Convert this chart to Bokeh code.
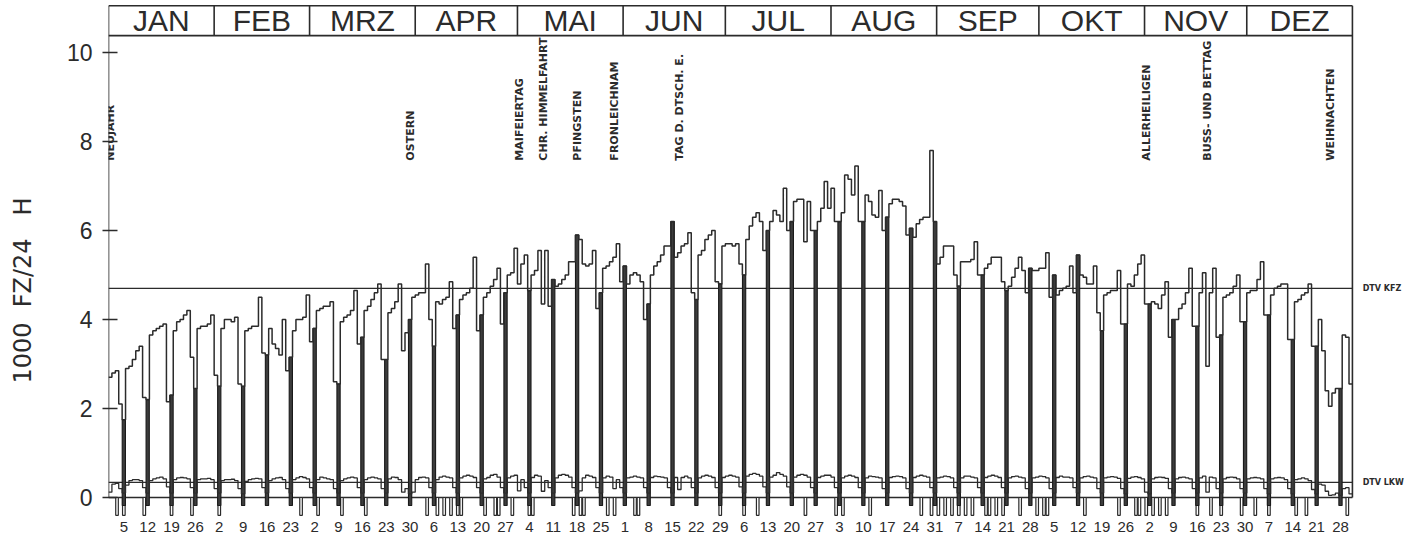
import math
from bokeh.plotting import figure
from bokeh.models import Range1d, FixedTicker
from bokeh.core.properties import value
from bokeh.embed import file_html
from bokeh.resources import INLINE

# ---------------- data ----------------
months = ["JAN", "FEB", "MRZ", "APR", "MAI", "JUN", "JUL", "AUG", "SEP", "OKT", "NOV", "DEZ"]
month_days = [31, 28, 31, 30, 31, 30, 31, 31, 30, 31, 30, 31]

# daily traffic, all vehicles (1000 FZ/24 H), 1986
kfz_jan = [2.7, 2.8, 2.85, 2.1, 1.75, 2.9, 2.95, 3.1, 3.3, 3.4, 2.25, 2.2, 3.65, 3.75, 3.8, 3.85,
           3.9, 2.15, 2.3, 3.75, 3.95, 4.0, 4.1, 4.2, 3.15, 2.45, 3.8, 3.85, 3.85, 3.9, 4.1]
kfz_feb = [2.75, 2.5, 3.8, 4.0, 4.0, 3.95, 4.05, 2.55, 2.5, 3.75, 3.8, 3.85, 3.85, 4.5, 3.25, 3.2,
           3.8, 3.45, 3.35, 3.2, 4.0, 2.85, 3.15, 3.75, 4.0, 4.0, 4.05, 4.55]
kfz_mar = [3.5, 3.8, 4.2, 4.25, 4.3, 4.3, 4.4, 2.6, 2.55, 3.95, 4.05, 4.1, 4.2, 4.65, 3.45, 3.6,
           4.2, 4.3, 4.45, 4.6, 4.8, 3.1, 3.1, 4.15, 4.25, 4.4, 4.8, 3.3, 3.7, 4.0, 4.5]
kfz_apr = [4.55, 4.6, 4.6, 5.25, 4.0, 3.4, 4.4, 4.35, 4.45, 4.5, 4.85, 3.8, 4.1, 4.45, 4.55, 4.6,
           4.7, 5.4, 3.75, 4.1, 4.5, 4.6, 4.75, 4.9, 5.15, 3.9, 4.6, 5.0, 5.05, 5.6]
kfz_mai = [4.8, 5.25, 5.45, 4.65, 5.0, 5.1, 5.55, 4.35, 5.55, 4.3, 4.9, 4.75, 4.8, 4.9, 5.0, 5.3,
           5.3, 5.9, 5.8, 5.25, 5.2, 5.25, 5.55, 4.25, 4.6, 5.15, 5.2, 5.3, 5.4, 5.7, 4.85]
kfz_jun = [5.2, 4.8, 5.0, 5.05, 5.0, 4.85, 4.0, 4.35, 5.0, 5.2, 5.3, 5.45, 5.65, 5.65, 6.2, 5.4,
           5.5, 5.65, 5.7, 5.95, 4.6, 4.45, 5.45, 5.55, 5.8, 5.9, 6.0, 4.85, 4.8, 5.65]
kfz_jul = [5.7, 5.7, 5.65, 5.7, 5.25, 5.0, 5.8, 6.1, 6.3, 6.4, 6.2, 5.55, 6.0, 6.2, 6.45, 6.35,
           6.2, 6.95, 6.0, 6.2, 6.65, 6.7, 6.7, 5.75, 6.65, 6.0, 6.0, 6.2, 6.5, 7.1, 6.5]
kfz_aug = [6.95, 6.2, 6.2, 6.4, 7.25, 7.15, 6.8, 7.45, 6.2, 6.2, 6.8, 6.65, 6.35, 6.3, 6.9, 6.0,
           6.3, 6.6, 6.7, 6.7, 6.65, 6.55, 5.9, 6.05, 5.85, 6.15, 6.25, 6.3, 6.3, 7.8, 6.2]
kfz_sep = [5.25, 5.4, 5.65, 5.65, 5.65, 5.0, 4.75, 5.3, 5.3, 5.3, 5.35, 5.75, 5.0, 5.0, 5.15, 5.25,
           5.4, 5.4, 5.4, 4.85, 4.65, 4.75, 4.95, 5.15, 5.4, 5.1, 4.6, 5.15, 5.1, 5.1]
kfz_okt = [5.15, 5.15, 5.5, 4.5, 5.0, 4.55, 4.65, 4.7, 4.75, 5.2, 4.6, 5.45, 5.0, 4.95, 4.8, 4.8,
           5.2, 4.15, 3.75, 4.55, 4.6, 4.65, 4.65, 5.1, 3.9, 3.9, 4.8, 4.75, 5.0, 5.25, 5.45]
kfz_nov = [4.35, 4.35, 4.4, 4.35, 4.25, 4.55, 4.85, 3.6, 4.0, 4.0, 4.25, 4.35, 4.6, 5.15, 3.85, 3.85,
           4.6, 5.05, 2.95, 4.6, 5.15, 3.6, 3.65, 4.5, 4.55, 4.6, 4.75, 5.0, 3.95, 3.95]
kfz_dez = [4.6, 4.65, 4.65, 4.9, 5.3, 4.1, 4.1, 4.55, 4.7, 4.75, 4.8, 4.8, 3.55, 3.55, 4.4, 4.45,
           4.55, 4.6, 4.8, 3.4, 3.4, 4.0, 3.3, 2.4, 2.05, 2.35, 2.45, 2.45, 3.65, 3.6, 2.55]

# daily traffic, lorries (1000 FZ/24 H)
lkw_jan = [0.12, 0.3, 0.32, 0.2, 0.1, 0.28, 0.38, 0.4, 0.4, 0.38, 0.22, 0.1, 0.38, 0.42, 0.44, 0.46,
           0.42, 0.24, 0.1, 0.4, 0.44, 0.45, 0.44, 0.42, 0.22, 0.1, 0.4, 0.42, 0.42, 0.43, 0.4]
lkw_feb = [0.2, 0.1, 0.38, 0.4, 0.4, 0.41, 0.38, 0.2, 0.08, 0.36, 0.4, 0.42, 0.43, 0.42, 0.22, 0.1,
           0.38, 0.42, 0.44, 0.45, 0.4, 0.2, 0.1, 0.4, 0.44, 0.47, 0.45, 0.42]
lkw_mar = [0.22, 0.1, 0.4, 0.46, 0.44, 0.42, 0.4, 0.2, 0.1, 0.38, 0.42, 0.44, 0.46, 0.44, 0.22, 0.1,
           0.4, 0.44, 0.46, 0.44, 0.42, 0.2, 0.1, 0.42, 0.46, 0.45, 0.4, 0.12, 0.2, 0.08, 0.12]
lkw_apr = [0.4, 0.45, 0.46, 0.44, 0.22, 0.1, 0.4, 0.46, 0.48, 0.46, 0.44, 0.22, 0.1, 0.44, 0.48, 0.5,
           0.48, 0.45, 0.22, 0.1, 0.42, 0.45, 0.5, 0.52, 0.46, 0.22, 0.1, 0.44, 0.48, 0.5]
lkw_mai = [0.15, 0.4, 0.22, 0.1, 0.45, 0.5, 0.48, 0.14, 0.38, 0.22, 0.1, 0.44, 0.5, 0.52, 0.5, 0.46,
           0.22, 0.1, 0.15, 0.44, 0.5, 0.48, 0.45, 0.22, 0.1, 0.44, 0.48, 0.46, 0.2, 0.4, 0.22]
lkw_jun = [0.1, 0.44, 0.46, 0.48, 0.46, 0.44, 0.22, 0.1, 0.45, 0.48, 0.47, 0.46, 0.44, 0.22, 0.1, 0.45,
           0.18, 0.45, 0.48, 0.44, 0.22, 0.1, 0.44, 0.48, 0.5, 0.48, 0.45, 0.22, 0.1, 0.45]
lkw_jul = [0.48, 0.5, 0.48, 0.46, 0.24, 0.1, 0.48, 0.52, 0.54, 0.52, 0.48, 0.24, 0.1, 0.46, 0.5, 0.56,
           0.52, 0.48, 0.24, 0.1, 0.46, 0.5, 0.52, 0.5, 0.46, 0.22, 0.1, 0.45, 0.48, 0.5, 0.5]
lkw_aug = [0.46, 0.22, 0.1, 0.44, 0.48, 0.5, 0.48, 0.45, 0.22, 0.1, 0.44, 0.48, 0.47, 0.46, 0.44, 0.2,
           0.1, 0.45, 0.47, 0.48, 0.47, 0.44, 0.2, 0.1, 0.45, 0.48, 0.5, 0.48, 0.46, 0.22, 0.1]
lkw_sep = [0.44, 0.46, 0.48, 0.47, 0.44, 0.22, 0.1, 0.44, 0.48, 0.48, 0.46, 0.44, 0.22, 0.1, 0.45, 0.48,
           0.5, 0.48, 0.45, 0.22, 0.1, 0.44, 0.47, 0.48, 0.46, 0.44, 0.2, 0.1, 0.44, 0.46]
lkw_okt = [0.48, 0.47, 0.44, 0.2, 0.1, 0.45, 0.48, 0.46, 0.46, 0.44, 0.22, 0.1, 0.44, 0.47, 0.48, 0.46,
           0.44, 0.2, 0.1, 0.44, 0.46, 0.47, 0.46, 0.43, 0.2, 0.08, 0.43, 0.46, 0.47, 0.45, 0.42]
lkw_nov = [0.12, 0.08, 0.42, 0.45, 0.46, 0.45, 0.43, 0.2, 0.1, 0.42, 0.45, 0.46, 0.44, 0.42, 0.2, 0.1,
           0.44, 0.48, 0.12, 0.46, 0.44, 0.2, 0.1, 0.42, 0.45, 0.46, 0.45, 0.42, 0.2, 0.1]
lkw_dez = [0.42, 0.44, 0.45, 0.44, 0.42, 0.2, 0.08, 0.42, 0.44, 0.45, 0.44, 0.4, 0.2, 0.08, 0.4, 0.42,
           0.44, 0.42, 0.38, 0.18, 0.08, 0.3, 0.28, 0.14, 0.05, 0.06, 0.1, 0.05, 0.2, 0.22, 0.08]

dtv_kfz = 4.70
dtv_lkw = 0.34

first_sunday = 5  # day of year of the first Sunday (5 Jan 1986)
sunday_labels = [5, 12, 19, 26, 2, 9, 16, 23, 2, 9, 16, 23, 30, 6, 13, 20, 27, 4, 11, 18, 25, 1, 8,
                 15, 22, 29, 6, 13, 20, 27, 3, 10, 17, 24, 31, 7, 14, 21, 28, 5, 12, 19, 26, 2, 9,
                 16, 23, 30, 7, 14, 21, 28]

holiday_days = [1, 89, 121, 128, 138, 149, 168, 305, 323, 359]
holiday_names = ["NEUJAHR", "OSTERN", "MAIFEIERTAG", "CHR. HIMMELFAHRT", "PFINGSTEN",
                 "FRONLEICHNAM", "TAG D. DTSCH. E.", "ALLERHEILIGEN", "BUSS- UND BETTAG",
                 "WEIHNACHTEN"]

marked_days = [3, 5, 11, 19, 25, 33, 57, 62, 69, 76, 94, 97, 99, 101, 103, 104, 111, 114, 115, 119,
               124, 125, 137, 139, 140, 147, 149, 155, 156, 180, 187, 191, 205, 214, 216, 224, 239,
               242, 244, 246, 248, 250, 252, 254, 258, 259, 261, 263, 268, 273, 275, 276, 287, 297,
               302, 303, 305, 307, 309, 311, 320, 324, 327, 333, 337, 341, 349, 352, 364]

# axis title; trailing non-breaking spaces push the centred title down to where the original sits
y_title = "1000\u00a0\u00a0FZ/24\u00a0\u00a0\u00a0H" + "\u00a0" * 8

# ---------------- assembly ----------------
kfz = (kfz_jan + kfz_feb + kfz_mar + kfz_apr + kfz_mai + kfz_jun + kfz_jul + kfz_aug + kfz_sep
       + kfz_okt + kfz_nov + kfz_dez)
lkw = (lkw_jan + lkw_feb + lkw_mar + lkw_apr + lkw_mai + lkw_jun + lkw_jul + lkw_aug + lkw_sep
       + lkw_okt + lkw_nov + lkw_dez)
n_days = len(kfz)
days = list(range(1, n_days + 1))
sundays = [first_sunday + 7 * k for k in range(len(sunday_labels))]

INK = "#2b2b2b"
W, H = 1409, 538
LEFT = 108
BOTTOM = 19
PX_DAY = 3.408
PX_UNIT = 44.5
y_top = 497 / PX_UNIT
y_bot = y_top - (H - BOTTOM) / PX_UNIT
x_start = 0.5
x_end = x_start + (W - LEFT) / PX_DAY

p = figure(width=W, height=H, output_backend="svg", toolbar_location=None,
           x_range=Range1d(x_start, x_end), y_range=Range1d(y_bot, y_top),
           min_border_left=LEFT, min_border_right=0, min_border_top=0,
           min_border_bottom=BOTTOM)
p.outline_line_color = None
p.xgrid.grid_line_color = None
p.ygrid.grid_line_color = None
p.background_fill_color = "white"
p.border_fill_color = "white"

# y axis
p.yaxis.ticker = FixedTicker(ticks=[0, 2, 4, 6, 8, 10])
p.yaxis.axis_line_color = None
p.yaxis.major_tick_in = 9
p.yaxis.major_tick_out = 6
p.yaxis.major_tick_line_color = INK
p.yaxis.major_tick_line_width = 1.5
p.yaxis.minor_tick_line_color = None
p.yaxis.major_label_text_font = "Liberation Sans"
p.yaxis.major_label_text_font_size = "23px"
p.yaxis.major_label_text_color = INK
p.yaxis.major_label_standoff = 10
p.yaxis.axis_label = y_title
p.yaxis.axis_label_text_font = "DejaVu Sans"
p.yaxis.axis_label_text_font_style = "normal"
p.yaxis.axis_label_text_font_size = "24px"
p.yaxis.axis_label_text_color = INK
p.yaxis.axis_label_standoff = 27

# x axis: day-of-month of each Sunday
p.xaxis.ticker = FixedTicker(ticks=sundays)
p.xaxis.major_label_overrides = {d: str(l) for d, l in zip(sundays, sunday_labels)}
p.xaxis.axis_line_color = None
p.xaxis.major_tick_line_color = None
p.xaxis.major_tick_out = 0
p.xaxis.major_tick_in = 0
p.xaxis.minor_tick_line_color = None
p.xaxis.major_label_text_font = "Liberation Sans"
p.xaxis.major_label_text_font_size = "15px"
p.xaxis.major_label_text_color = INK
p.xaxis.major_label_standoff = 2

# month header
cum = [0]
for md in month_days:
    cum.append(cum[-1] + md)
hdr_bot, hdr_top = 10.38, 11.05
p.segment(x0=[x_start, x_start], y0=[hdr_bot, hdr_top], x1=[n_days + 0.5] * 2, y1=[hdr_bot, hdr_top],
          line_color=INK, line_width=1.6)
p.segment(x0=[c + 0.5 for c in cum[1:-1]], y0=[hdr_bot] * 11, x1=[c + 0.5 for c in cum[1:-1]],
          y1=[hdr_top] * 11, line_color=INK, line_width=1.6)
p.text(x=[(cum[i] + cum[i + 1]) / 2 + 0.5 for i in range(12)], y=[(hdr_bot + hdr_top) / 2] * 12,
       text=months, text_align="center", text_baseline="middle", text_color=INK,
       text_font=value("Liberation Sans"), text_font_size="30px")

# frame borders and baselines
p.segment(x0=[x_start, n_days + 0.5], y0=[0, 0], x1=[x_start, n_days + 0.5], y1=[hdr_top, hdr_top],
          line_color=INK, line_width=1.6)
p.segment(x0=[x_start] * 3, y0=[0, dtv_kfz, dtv_lkw], x1=[n_days + 0.5] * 3,
          y1=[0, dtv_kfz, dtv_lkw], line_color=INK, line_width=1.3)

# marked days below the baseline
p.quad(left=[d - 0.38 for d in marked_days], right=[d + 0.38 for d in marked_days],
       top=[0] * len(marked_days), bottom=[-0.4] * len(marked_days),
       fill_color="white", line_color=INK, line_width=1.2)

# Sunday bars
p.vbar(x=sundays, width=0.95, bottom=-0.18, top=[kfz[d - 1] for d in sundays],
       fill_color="#3c3c3c", line_color="#1a1a1a", line_width=1.1)

# daily step lines
edges = [d - 0.5 for d in days] + [n_days + 0.5]
p.step(x=edges, y=kfz + [kfz[-1]], mode="after", line_color=INK, line_width=1.5)
p.step(x=edges, y=lkw + [lkw[-1]], mode="after", line_color=INK, line_width=1.3)

# holiday labels
p.text(x=holiday_days, y=[7.57] * len(holiday_days), text=holiday_names, angle=math.pi / 2,
       text_align="left", text_baseline="middle", text_color=INK,
       text_font=value("DejaVu Sans"), text_font_style="bold", text_font_size="11px")

# DTV labels at right
p.text(x=[n_days + 3.5] * 2, y=[dtv_kfz, dtv_lkw], text=["DTV KFZ", "DTV LKW"],
       text_align="left", text_baseline="middle", text_color=INK,
       text_font=value("DejaVu Sans"), text_font_style="bold", text_font_size="8px")

open("out.html", "w").write(file_html(p, INLINE))
